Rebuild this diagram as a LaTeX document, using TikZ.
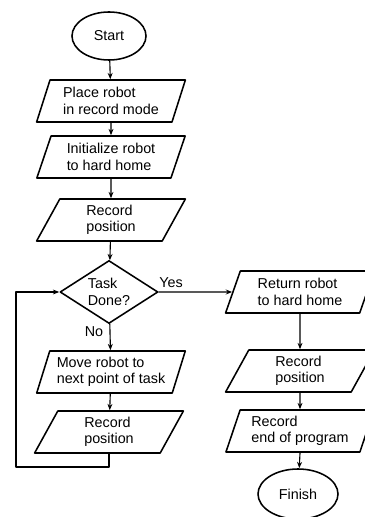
\documentclass[tikz,border=0pt]{standalone}
\usepackage{fontspec}
\setmainfont{Liberation Sans}
\usetikzlibrary{shapes.geometric,arrows.meta}

\tikzset{
  every node/.style={font=\fontsize{10.2}{11.6}\selectfont},
  procbox/.style={trapezium,trapezium left angle=70,trapezium right angle=110,
    trapezium stretches=true,draw,line width=1.1pt,minimum width=3.725cm,
    minimum height=1.05cm,inner sep=1pt,align=left},
  termbox/.style={ellipse,draw,line width=1.1pt,inner sep=0pt},
  testbox/.style={diamond,draw,line width=1.1pt,inner sep=0pt,aspect=1.55,
    minimum width=2.45cm,minimum height=1.575cm,align=left},
  flow/.style={line width=0.8pt,-{Stealth[length=4.5pt,width=3.5pt]}}
}

\begin{document}
\begin{tikzpicture}[x=0.025cm,y=-0.025cm,line cap=round,line join=round]
  \useasboundingbox (0,0) rectangle (365,517);
  % left column
  \node[termbox,minimum width=1.85cm,minimum height=1.2cm] (start) at (109,36) {Start};
  \node[procbox] (place) at (111,101) {Place robot\\in record mode};
  \node[procbox] (init) at (111,157) {Initialize robot\\to hard home};
  \node[procbox] (rec1) at (111,220) {Record\\position};
  \node[testbox] (done) at (109,292) {Task\\Done?};
  \node[procbox] (move) at (111,372) {Move robot to\\next point of task};
  \node[procbox] (rec2) at (109,432) {Record\\position};
  % right column
  \node[procbox] (ret) at (300,292) {Return robot\\to hard home};
  \node[procbox] (rec3) at (300,371) {Record\\position};
  \node[procbox] (recend) at (300,431) {Record\\end of program};
  \node[termbox,minimum width=2cm,minimum height=1.25cm] (finish) at (298,494) {Finish};
  \node (yes) at (171,283) {Yes};
  \node (no) at (94,332) {No};
  \coordinate (back) at (16,467);

  \draw[flow] (start) -- (place);
  \draw[flow] (place) -- (init);
  \draw[flow] (init) -- (rec1);
  \draw[flow] (rec1) -- (done);
  \draw[flow] (done) -- (move);
  \draw[flow] (move) -- (rec2);
  \draw[flow] (rec2.south) |- (back) |- (done.west);
  \draw[flow] (done.east) -- (ret.west);
  \draw[flow] (ret) -- (rec3);
  \draw[flow] (rec3) -- (recend);
  \draw[flow] (recend.south) -- (finish);
\end{tikzpicture}
\end{document}
